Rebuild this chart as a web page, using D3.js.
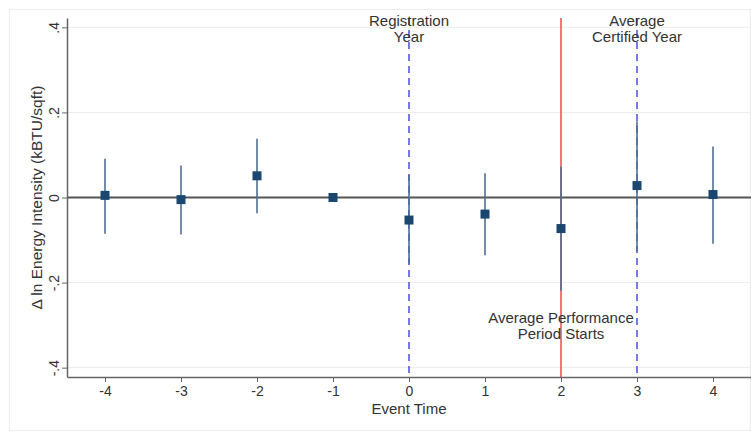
<!DOCTYPE html>
<html>
<head>
<meta charset="utf-8">
<script src="https://cdn.jsdelivr.net/npm/d3@7"></script>
<style>
  body { margin: 0; background: #fff; }
  svg { display: block; font-family: "Liberation Sans", Arial, sans-serif; }
</style>
</head>
<body>
<svg width="751" height="434"></svg>
<script>
// event-study estimates
const eventTime = [-4, -3, -2, -1, 0, 1, 2, 3, 4];
const estimate  = [0.005, -0.005, 0.051, 0, -0.053, -0.039, -0.073, 0.028, 0.007];
const ciLow     = [-0.085, -0.087, -0.037, 0, -0.155, -0.136, -0.219, -0.127, -0.109];
const ciHigh    = [0.091, 0.075, 0.138, 0, 0.053, 0.057, 0.072, 0.179, 0.12];
const yTicks    = [-0.4, -0.2, 0, 0.2, 0.4];
const yTickText = ["-.4", "-.2", "0", ".2", ".4"];

const svg = d3.select("svg"),
      margin = { top: 18, right: 0, bottom: 57, left: 67 },
      W = +svg.attr("width"),
      H = +svg.attr("height");

const x = d3.scaleLinear().domain([-4.5, 4.5]).range([margin.left, W - margin.right]);
const y = d3.scaleLinear().domain([-0.422, 0.422]).range([H - margin.bottom, margin.top]);

// faint outer frame
svg.append("rect")
  .attr("x", 9.5).attr("y", 9.5)
  .attr("width", W - 10).attr("height", H - 13)
  .attr("fill", "none").attr("stroke", "#ececec");

// gridlines
svg.append("g").selectAll("line")
  .data(yTicks.filter(d => d !== 0))
  .enter().append("line")
  .attr("x1", x.range()[0]).attr("x2", x.range()[1])
  .attr("y1", d => y(d)).attr("y2", d => y(d))
  .attr("stroke", "#ececec").attr("stroke-width", 1);

// reference lines
const plotTop = y.range()[1], plotBottom = y.range()[0];
[0, 3].forEach(t => {
  svg.append("line")
    .attr("x1", x(t)).attr("x2", x(t))
    .attr("y1", plotTop).attr("y2", plotBottom)
    .attr("stroke", "#4b4ee0").attr("stroke-width", 1.5)
    .attr("stroke-dasharray", "7,5");
});
svg.append("line")
  .attr("x1", x(2)).attr("x2", x(2))
  .attr("y1", plotTop).attr("y2", plotBottom)
  .attr("stroke", "#ee4b4b").attr("stroke-width", 1.5);

// zero line
svg.append("line")
  .attr("x1", x.range()[0]).attr("x2", x.range()[1])
  .attr("y1", y(0)).attr("y2", y(0))
  .attr("stroke", "#555").attr("stroke-width", 2);

// axes
const yAxis = svg.append("g")
  .attr("transform", `translate(${margin.left},0)`)
  .call(d3.axisLeft(y).tickValues(yTicks).tickFormat((d, i) => yTickText[i]).tickSize(5).tickSizeOuter(0));
yAxis.select(".domain").attr("stroke", "#666").attr("stroke-width", 1.5);
yAxis.selectAll(".tick line").attr("stroke", "#666");
yAxis.selectAll(".tick text")
  .attr("transform", "rotate(-90,-8,0)")
  .attr("x", -8).attr("dy", 0).attr("dx", 0)
  .attr("text-anchor", "middle")
  .style("font-size", "14px").attr("fill", "#333");

const xAxis = svg.append("g")
  .attr("transform", `translate(0,${H - margin.bottom})`)
  .call(d3.axisBottom(x).tickValues(eventTime).tickFormat(d => String(d)).tickSize(5).tickSizeOuter(0));
xAxis.select(".domain").attr("stroke", "#666").attr("stroke-width", 1.5);
xAxis.selectAll(".tick line").attr("stroke", "#666");
xAxis.selectAll(".tick text")
  .attr("y", 9).attr("dy", "0.71em")
  .style("font-size", "14px").attr("fill", "#333");

// axis titles
svg.append("text")
  .attr("x", (x.range()[0] + x.range()[1]) / 2)
  .attr("y", 414)
  .attr("text-anchor", "middle")
  .style("font-size", "15px").attr("fill", "#333")
  .text("Event Time");

svg.append("text")
  .attr("transform", `translate(42,${y(0)}) rotate(-90)`)
  .attr("text-anchor", "middle")
  .style("font-size", "15.5px").attr("fill", "#333")
  .text("Δ ln Energy Intensity (kBTU/sqft)");

// confidence intervals
svg.append("g").selectAll("line")
  .data(eventTime.map((t, i) => ({ t, lo: ciLow[i], hi: ciHigh[i] })).filter(d => d.lo !== d.hi))
  .enter().append("line")
  .attr("x1", d => x(d.t)).attr("x2", d => x(d.t))
  .attr("y1", d => y(d.lo)).attr("y2", d => y(d.hi))
  .attr("stroke", "#4f6f91").attr("stroke-width", 1.6);

// point estimates
const ms = 9;
svg.append("g").selectAll("rect")
  .data(eventTime.map((t, i) => ({ t, v: estimate[i] })))
  .enter().append("rect")
  .attr("x", d => x(d.t) - ms / 2).attr("y", d => y(d.v) - ms / 2)
  .attr("width", ms).attr("height", ms)
  .attr("fill", "#1a476f");

// annotations
const notes = [
  { t: 0, y: 26, lines: ["Registration", "Year"] },
  { t: 3, y: 26, lines: ["Average", "Certified Year"] },
  { t: 2, y: 323, lines: ["Average Performance", "Period Starts"] }
];
notes.forEach(n => {
  const txt = svg.append("text")
    .attr("text-anchor", "middle")
    .style("font-size", "15px").attr("fill", "#333");
  n.lines.forEach((l, i) => {
    txt.append("tspan")
      .attr("x", x(n.t))
      .attr("y", n.y + i * 16)
      .text(l);
  });
});
</script>
</body>
</html>
